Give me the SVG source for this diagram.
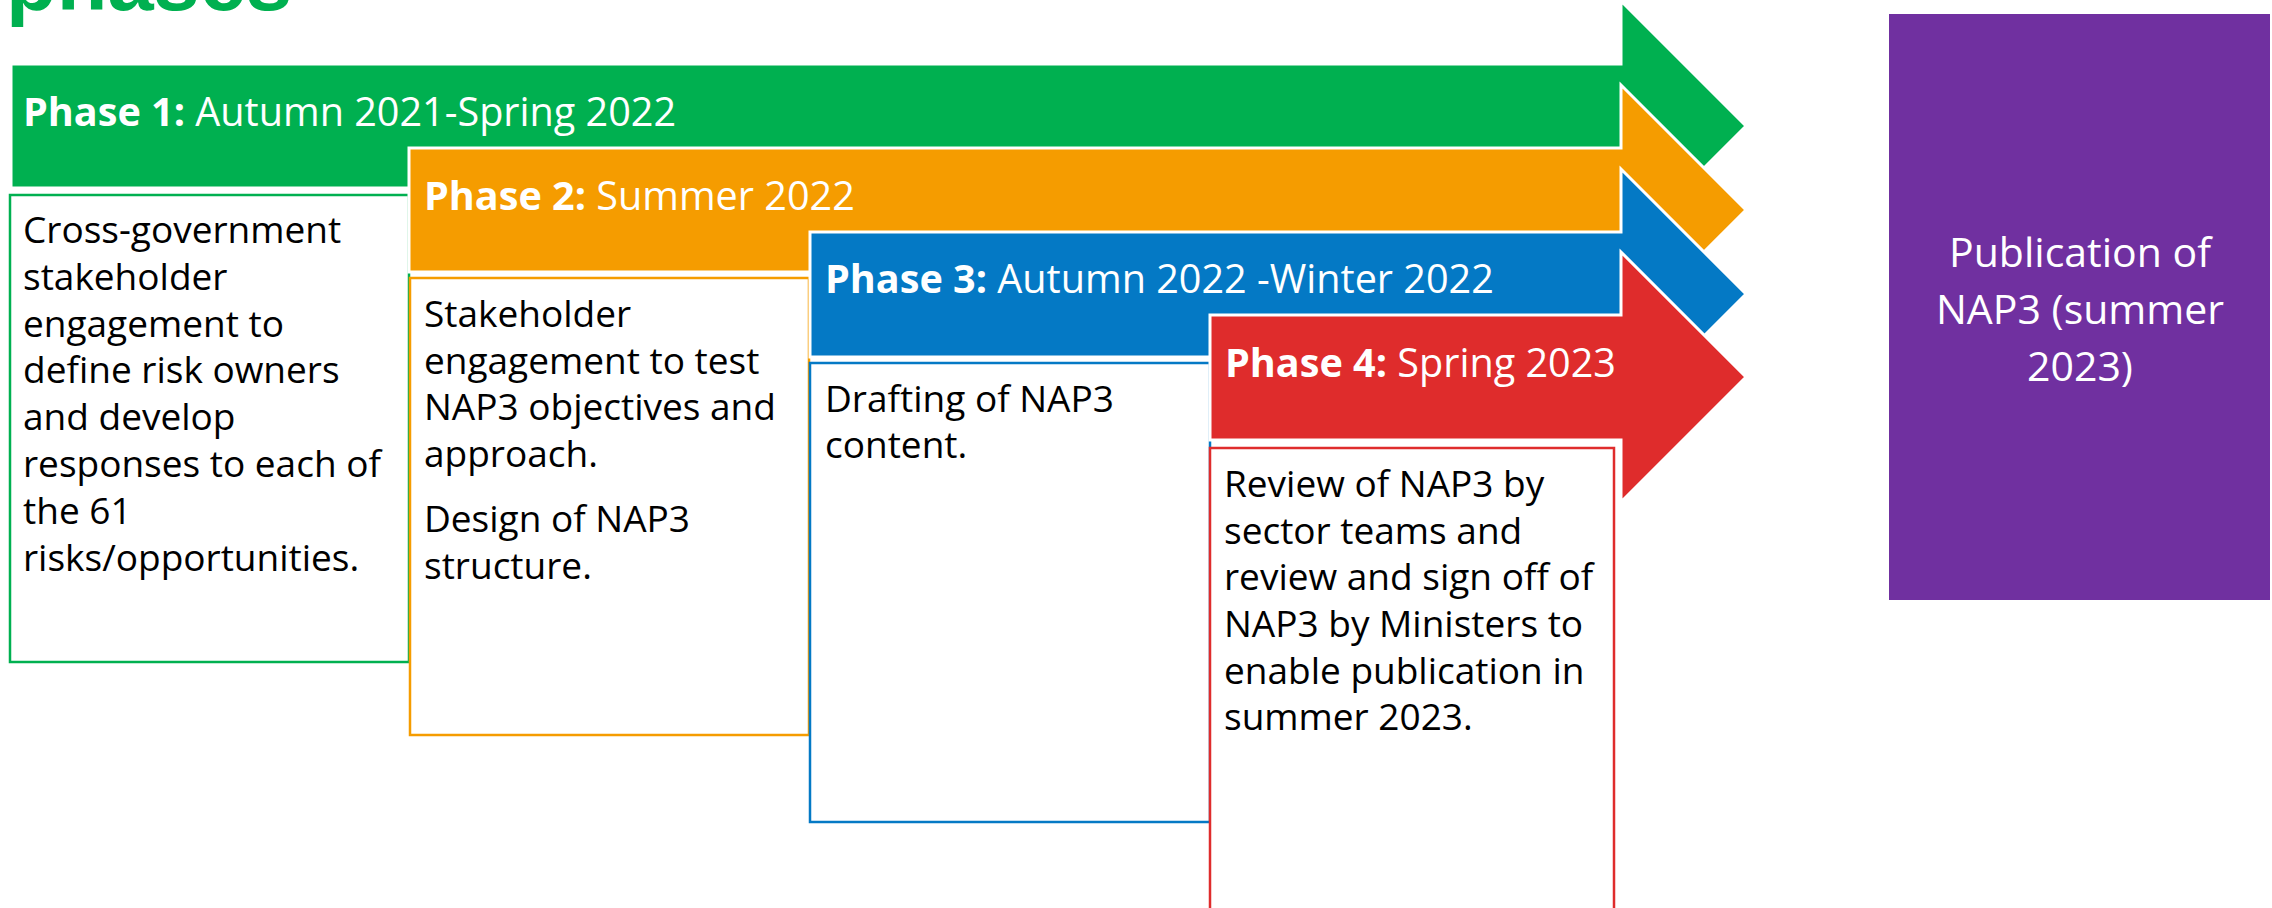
<svg xmlns="http://www.w3.org/2000/svg" width="2272" height="908" viewBox="0 0 2272 908">
<style>
.arrow{stroke:#ffffff;stroke-width:3;stroke-linejoin:miter}
.box{fill:#ffffff;stroke-width:2.5}
.hd{font-family:"Open Sans","Noto Sans",sans-serif;font-size:39.6px;fill:#ffffff}
.hd .b{font-weight:700}
.bd{font-family:"Open Sans","Noto Sans",sans-serif;font-size:37px;fill:#000000}
.pub{font-family:"Open Sans","Noto Sans",sans-serif;font-size:41px;fill:#ffffff;text-anchor:middle}
.title{font-family:"Liberation Sans",Arial,sans-serif;font-size:83px;font-weight:700;fill:#00B050}
</style>
<rect width="2272" height="908" fill="#ffffff"/>
<text class="title" x="6" y="10">phases</text>

<g id="phase1">
<polygon class="arrow" fill="#00B050" points="11,64 1621,64 1621,1 1746,126 1621,251 1621,188 11,188"/>
<text class="hd" x="23" y="126"><tspan class="b">Phase 1:</tspan> Autumn 2021-Spring 2022</text>
<rect class="box" stroke="#00B050" x="10" y="195" width="399" height="467"/>
<text class="bd"><tspan x="23" y="243">Cross-government</tspan><tspan x="23" y="290">stakeholder</tspan><tspan x="23" y="337">engagement to</tspan><tspan x="23" y="383">define risk owners</tspan><tspan x="23" y="430">and develop</tspan><tspan x="23" y="477">responses to each of</tspan><tspan x="23" y="524">the 61</tspan><tspan x="23" y="571">risks/opportunities.</tspan></text>
</g>

<g id="phase2">
<polygon class="arrow" fill="#F59C00" points="409,148 1621,148 1621,85 1746,210 1621,335 1621,272 409,272"/>
<text class="hd" x="424" y="210"><tspan class="b">Phase 2:</tspan> Summer 2022</text>
<rect class="box" stroke="#F59C00" x="410" y="278" width="399" height="457"/>
<text class="bd"><tspan x="424" y="327">Stakeholder</tspan><tspan x="424" y="374">engagement to test</tspan><tspan x="424" y="420">NAP3 objectives and</tspan><tspan x="424" y="467">approach.</tspan><tspan x="424" y="532">Design of NAP3</tspan><tspan x="424" y="579">structure.</tspan></text>
</g>

<g id="phase3">
<polygon class="arrow" fill="#0479C5" points="810,232 1621,232 1621,169 1746,294 1621,419 1621,357 810,357"/>
<text class="hd" x="825" y="293"><tspan class="b">Phase 3:</tspan> Autumn 2022 -Winter 2022</text>
<rect class="box" stroke="#0479C5" x="810" y="363" width="400" height="459"/>
<text class="bd"><tspan x="825" y="412">Drafting of NAP3</tspan><tspan x="825" y="458">content.</tspan></text>
</g>

<g id="phase4">
<polygon class="arrow" fill="#DF2C2C" points="1210,315 1621,315 1621,252 1746,377 1621,502 1621,440 1210,440"/>
<text class="hd" x="1225" y="377"><tspan class="b">Phase 4:</tspan> Spring 2023</text>
<rect class="box" stroke="#DF2C2C" x="1210" y="448" width="404" height="480"/>
<text class="bd"><tspan x="1224" y="497">Review of NAP3 by</tspan><tspan x="1224" y="544">sector teams and</tspan><tspan x="1224" y="590">review and sign off of</tspan><tspan x="1224" y="637">NAP3 by Ministers to</tspan><tspan x="1224" y="684">enable publication in</tspan><tspan x="1224" y="730">summer 2023.</tspan></text>
</g>

<g id="publication">
<rect x="1889" y="14" width="381" height="586" fill="#7030A0"/>
<text class="pub"><tspan x="2080" y="267">Publication of</tspan><tspan x="2080" y="324">NAP3 (summer</tspan><tspan x="2080" y="381">2023)</tspan></text>
</g>

<g id="connectors"></g>
</svg>
